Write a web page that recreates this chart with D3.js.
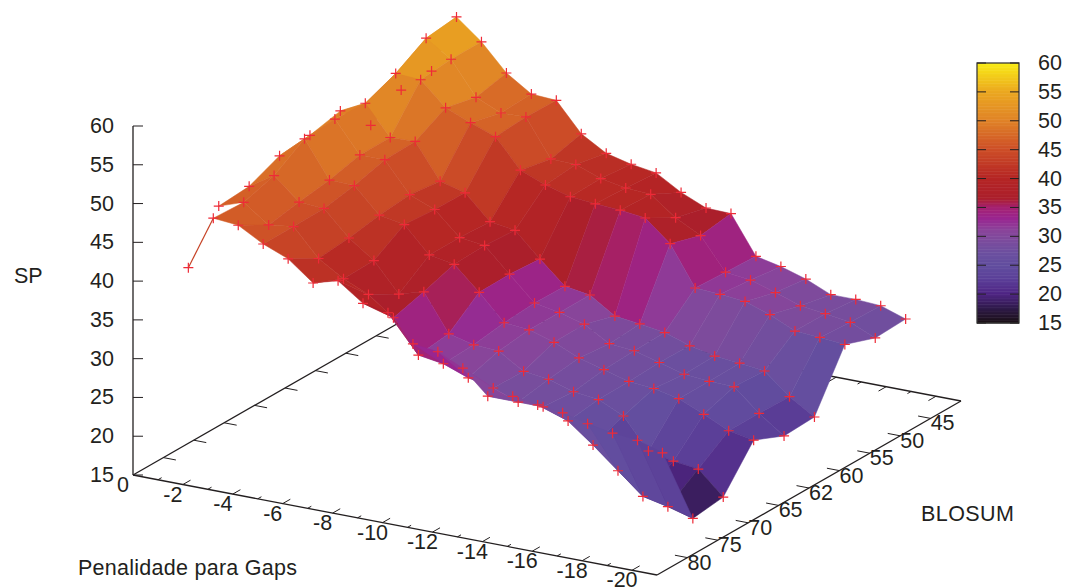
<!DOCTYPE html>
<html>
<head>
<meta charset="utf-8">
<script src="https://cdn.jsdelivr.net/npm/d3@7"></script>
<style>
  html, body { margin: 0; padding: 0; background: #fff; }
  text { font-family: "Liberation Sans", Arial, sans-serif; font-size: 21.5px; fill: #231f20; }
</style>
</head>
<body>
<div id="viz"></div>
<script>
var gapValues = [-1, -2, -3, -4, -5, -6, -7, -8, -9, -10, -11, -12, -13, -14, -15, -16, -17, -18, -19, -20];
var blosumLabels = ['80', '75', '70', '65', '62', '60', '55', '50', '45'];

// SP per gap penalty, one list per BLOSUM matrix
var sp80 = [40.1, 47.1, 46.8, 45.0, 43.7, 41.2, 42.1, 39.8, 39.2, 35.8, 35.4, 33.9, 30.9, 31.5, 31.0, 30.6, 29.8, 29.2, 28.9, 27.9];
var sp75 = [45.8, 46.9, 44.6, 45.0, 41.5, 39.5, 38.1, 35.7, 31.5, 31.0, 29.8, 29.1, 27.9, 27.9, 26.7, 24.2, 21.5, 18.8, 18.1, 17.2];
var sp70 = [46.1, 48.1, 45.3, 45.1, 41.9, 39.6, 35.9, 36.8, 32.0, 31.2, 31.0, 29.0, 28.6, 27.6, 27.2, 25.7, 21.8, 21.1, 20.7, 17.7];
var sp65 = [47.8, 50.6, 45.9, 45.8, 42.6, 42.0, 38.7, 38.1, 35.1, 31.8, 31.5, 30.5, 29.1, 28.2, 27.3, 27.0, 26.3, 24.9, 23.4, 22.8];
var sp62 = [48.2, 50.9, 46.9, 46.9, 43.0, 41.7, 38.7, 38.3, 35.2, 32.1, 31.5, 30.6, 28.7, 28.4, 27.5, 26.6, 26.3, 26.2, 23.4, 21.1];
var sp60 = [49.1, 50.7, 46.9, 47.0, 42.5, 41.6, 38.5, 38.0, 34.9, 32.0, 31.5, 29.4, 29.0, 28.5, 27.4, 26.7, 26.4, 26.0, 23.3, 21.3];
var sp55 = [45.0, 52.3, 52.1, 49.1, 47.8, 46.6, 42.9, 41.6, 40.7, 40.4, 40.2, 39.8, 37.1, 32.0, 31.8, 31.5, 30.4, 28.9, 28.7, 28.4];
var sp50 = [47.3, 54.6, 52.5, 48.2, 46.8, 46.9, 42.1, 42.0, 40.8, 40.2, 40.0, 37.6, 35.9, 31.8, 31.4, 30.4, 29.3, 28.9, 28.4, 27.0];
var sp45 = [47.5, 55.1, 52.5, 49.1, 47.0, 46.8, 43.1, 41.2, 40.4, 39.9, 38.0, 36.6, 36.5, 31.6, 30.9, 29.9, 28.5, 28.5, 28.3, 27.2];
var spRows = [sp80, sp75, sp70, sp65, sp62, sp60, sp55, sp50, sp45];

var xTicks = d3.range(0, -21, -2);
var zTicks = [15, 20, 25, 30, 35, 40, 45, 50, 55, 60];
var paletteStops = [15, 17.5, 20, 22.5, 25, 27, 29, 31, 33, 35, 36.5, 40, 45, 50, 55, 60];
var paletteColors = ['#1a0f14', '#2f1a4a', '#4f2584', '#5b3f98', '#624e9f', '#6b4f9f', '#7a4c9d', '#8a449a', '#992590', '#a5206f', '#ab1f2b', '#b52524', '#cd4e27', '#e08327', '#eba820', '#f9ed14'];

var width = 1068;
var height = 588;

// the view is a flat projection: each axis adds its own pixel vector
var xPx = d3.scaleLinear().domain([0, -21]).range([0, 524]);
var xPy = d3.scaleLinear().domain([0, -21]).range([0, 100]);
var yPx = d3.scaleLinear().domain([0, 10]).range([0, 304]);
var yPy = d3.scaleLinear().domain([0, 10]).range([0, -174]);
var zPy = d3.scaleLinear().domain([15, 60]).range([475, 126]);
var color = d3.scaleLinear().domain(paletteStops).range(paletteColors);
var barY = d3.scaleLinear().domain([15, 60]).range([323, 63]);

function project(gap, row, sp) {
  return [133 + xPx(gap) + yPx(row), zPy(sp) + xPy(gap) + yPy(row)];
}

var svg = d3.select('#viz').append('svg')
  .attr('width', width)
  .attr('height', height)
  .style('display', 'block');

var line = d3.line();

function addLine(parent, a, b, w) {
  parent.append('path')
    .attr('d', line([a, b]))
    .attr('stroke', '#231f20')
    .attr('stroke-width', w || 1.3)
    .attr('fill', 'none');
}

// floor and its ticks, under the surface
var axes = svg.append('g');
addLine(axes, project(0, 0, 15), project(-21, 0, 15));
addLine(axes, project(-21, 0, 15), project(-21, 10, 15));
addLine(axes, project(-21, 10, 15), project(0, 10, 15));
addLine(axes, project(0, 10, 15), project(0, 0, 15));

d3.range(-1, -21, -1).forEach(function(g) {
  var len = g % 2 === 0 ? 0.25 : 0.12;
  addLine(axes, project(g, 0, 15), project(g, len, 15), 1);
  addLine(axes, project(g, 10, 15), project(g, 10 - len, 15), 1);
});

blosumLabels.forEach(function(lab, i) {
  addLine(axes, project(-21, i + 1, 15), project(-20.5, i + 1, 15), 1);
  addLine(axes, project(0, i + 1, 15), project(-0.5, i + 1, 15), 1);
});

addLine(axes, [133, zPy(15)], [133, zPy(60)]);
zTicks.forEach(function(t) {
  addLine(axes, [133, zPy(t)], [143, zPy(t)], 1);
});

axes.selectAll('.ztick').data(zTicks).enter().append('text')
  .attr('class', 'ztick')
  .attr('x', 114)
  .attr('y', function(d) { return zPy(d) + 7; })
  .attr('text-anchor', 'end')
  .text(function(d) { return d; });

axes.selectAll('.xtick').data(xTicks).enter().append('text')
  .attr('class', 'xtick')
  .attr('x', function(d) { return project(d, 0, 15)[0] - 10; })
  .attr('y', function(d) { return project(d, 0, 15)[1] + 17; })
  .attr('text-anchor', 'middle')
  .text(function(d) { return d; });

axes.selectAll('.ytick').data(blosumLabels).enter().append('text')
  .attr('class', 'ytick')
  .attr('x', function(d, i) { return project(-21, i + 1, 15)[0] + 12; })
  .attr('y', function(d, i) { return project(-21, i + 1, 15)[1] + 12; })
  .attr('text-anchor', 'middle')
  .text(function(d) { return d; });

svg.append('text').attr('x', 14).attr('y', 283).text('SP');
svg.append('text').attr('x', 78).attr('y', 575).attr('textLength', 219).text('Penalidade para Gaps');
svg.append('text').attr('x', 921).attr('y', 521).attr('textLength', 93).text('BLOSUM');

// surface cells, far ones first. the 80 row starts one gap later, see the lone segment below
var cells = [];
for (var r = spRows.length - 2; r >= 0; r--) {
  for (var c = r === 0 ? 1 : 0; c < gapValues.length - 1; c++) {
    cells.push({ r: r, c: c });
  }
}

function corner(r, c) {
  return project(gapValues[c], r + 1, spRows[r][c]);
}

svg.append('g').selectAll('polygon').data(cells).enter().append('polygon')
  .attr('points', function(d) {
    return [corner(d.r, d.c), corner(d.r, d.c + 1), corner(d.r + 1, d.c + 1), corner(d.r + 1, d.c)].join(' ');
  })
  .each(function(d) {
    var mean = (spRows[d.r][d.c] + spRows[d.r][d.c + 1] + spRows[d.r + 1][d.c] + spRows[d.r + 1][d.c + 1]) / 4;
    d3.select(this).attr('fill', color(mean)).attr('stroke', color(mean)).attr('stroke-width', 0.5);
  });

svg.append('path')
  .attr('d', line([corner(0, 0), corner(0, 1)]))
  .attr('stroke', color((sp80[0] + sp80[1]) / 2))
  .attr('stroke-width', 1.2)
  .attr('fill', 'none');

var points = [];
spRows.forEach(function(row, r) {
  row.forEach(function(sp, c) {
    points.push(project(gapValues[c], r + 1, sp));
  });
});

svg.append('g').selectAll('path').data(points).enter().append('path')
  .attr('transform', function(d) { return 'translate(' + d[0] + ',' + d[1] + ')'; })
  .attr('d', 'M-5,0H5M0,-5V5')
  .attr('stroke', '#ee2a37')
  .attr('stroke-width', 1.2)
  .attr('fill', 'none');

// colour box
var box = svg.append('g');
box.selectAll('rect').data(d3.range(15, 60, 0.25)).enter().append('rect')
  .attr('x', 977)
  .attr('width', 42)
  .attr('y', function(d) { return barY(d + 0.25); })
  .attr('height', function(d) { return barY(d) - barY(d + 0.25) + 0.5; })
  .attr('fill', function(d) { return color(d); });

box.append('rect')
  .attr('x', 977)
  .attr('y', barY(60))
  .attr('width', 42)
  .attr('height', barY(15) - barY(60))
  .attr('fill', 'none')
  .attr('stroke', '#3a3a3a')
  .attr('stroke-width', 1.3);

zTicks.forEach(function(t) {
  addLine(box, [977, barY(t)], [986, barY(t)], 1);
  addLine(box, [1019, barY(t)], [1010, barY(t)], 1);
});

box.selectAll('.cbtick').data(zTicks).enter().append('text')
  .attr('class', 'cbtick')
  .attr('x', 1038)
  .attr('y', function(d) { return barY(d) + 7; })
  .text(function(d) { return d; });
</script>
</body>
</html>
